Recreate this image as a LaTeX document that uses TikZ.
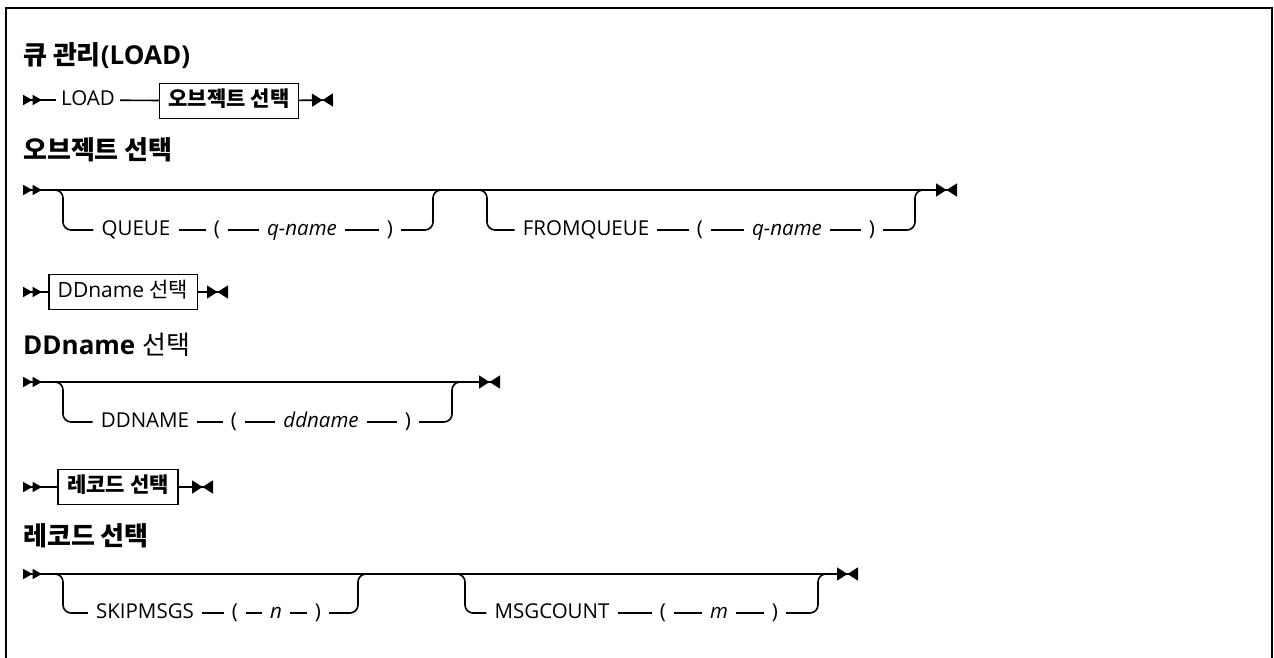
\documentclass[tikz,border=0pt]{standalone}
\usepackage{fontspec}
\setmainfont{Open Sans}
\newfontfamily\kr{Noto Sans CJK KR}
\usetikzlibrary{arrows.meta}

\begin{document}
\begin{tikzpicture}[
  x=1pt, y=-1pt,
  font=\fontsize{20.5}{24}\selectfont,
  frame/.style={line width=2.5pt, draw=black},
  rail/.style={line width=1.6pt, draw=black},
  railin/.style={rail, {Triangle[reversed,length=9.5pt,width=10pt]Triangle[reversed,length=9.5pt,width=10pt]}-},
  railout/.style={rail, -{Triangle[length=10.5pt,width=13pt]Triangle[reversed,length=10.5pt,width=13pt]}},
  railboth/.style={rail, {Triangle[reversed,length=9.5pt,width=10pt]Triangle[reversed,length=9.5pt,width=10pt]}-{Triangle[length=10.5pt,width=13pt]Triangle[reversed,length=10.5pt,width=13pt]}},
  branch/.style={rail, rounded corners=8pt},
  kwtext/.style={inner xsep=8pt, inner ysep=0pt, text height=14pt, text depth=3pt},
  var/.style={kwtext, font=\fontsize{20.5}{24}\selectfont\itshape},
  refbox/.style={draw, line width=1.6pt, minimum height=35pt, inner xsep=9pt,
    text height=15pt, text depth=4pt, font=\fontsize{21}{24}\selectfont},
  heading/.style={anchor=base west, inner sep=0pt, font=\fontsize{26}{30}\selectfont\bfseries},
]
\useasboundingbox (0,0) rectangle (1274,658);

% Frame (open at the bottom)
\draw[frame] (6,658) -- (6,8) -- (1272,8) -- (1272,658);

% Title
\node[heading] (title) at (23,65) {{\kr 큐 관리}(LOAD)};

% LOAD line
\coordinate (r1in) at (23,100);
\coordinate (r1out) at (333,100);
\node[kwtext, inner xsep=5pt] (load) at (88,100) {LOAD};
\node[refbox] (objbox) at (229,101) {\kr\bfseries 오브젝트 선택};
\draw[railin] (r1in) -- (load);
\draw[rail] (load) -- (objbox);
\draw[railout] (objbox) -- (r1out);

% Object selection
\node[heading] (objhead) at (23,159) {\kr 오브젝트 선택};
\coordinate (osin) at (23,190);
\coordinate (osout) at (957,190);
\draw[railboth] (osin) -- (osout);

% QUEUE branch
\coordinate (qa) at (50,190);
\coordinate (qb) at (63,190);
\coordinate (qc) at (433,190);
\coordinate (qd) at (443,190);
\node[kwtext] (queue) at (136,230) {QUEUE};
\node[kwtext] (lp1) at (217,230) {(};
\node[var] (qname1) at (302,230) {q-name};
\node[kwtext] (rp1) at (390,230) {)};
\draw[branch] (qa) -- (qb) |- (queue);
\draw[rail] (queue) -- (lp1) (lp1) -- (qname1) (qname1) -- (rp1);
\draw[branch] (rp1) -| (qc) -- (qd);

% FROMQUEUE branch
\coordinate (fa) at (477,190);
\coordinate (fb) at (487,190);
\coordinate (fc) at (915,190);
\coordinate (fd) at (925,190);
\node[kwtext] (fromq) at (586,230) {FROMQUEUE};
\node[kwtext] (lp2) at (700,230) {(};
\node[var] (qname2) at (787,230) {q-name};
\node[kwtext] (rp2) at (872,230) {)};
\draw[branch] (fa) -- (fb) |- (fromq);
\draw[rail] (fromq) -- (lp2) (lp2) -- (qname2) (qname2) -- (rp2);
\draw[branch] (rp2) -| (fc) -- (fd);

% DDname line
\coordinate (r3in) at (23,292);
\coordinate (r3out) at (228,292);
\node[refbox] (ddbox) at (123,292) {DDname {\kr 선택}};
\draw[railin] (r3in) -- (ddbox);
\draw[railout] (ddbox) -- (r3out);

% DDname selection
\node[heading] (ddhead) at (23,354) {DDname {\kr\mdseries 선택}};
\coordinate (ddin) at (23,382);
\coordinate (ddout) at (500,382);
\draw[railboth] (ddin) -- (ddout);
\coordinate (da) at (50,382);
\coordinate (db) at (63,382);
\coordinate (dc) at (452,382);
\coordinate (dd) at (462,382);
\node[kwtext] (ddkw) at (145,422) {DDNAME};
\node[kwtext] (lp3) at (234,422) {(};
\node[var] (ddvar) at (321,422) {ddname};
\node[kwtext] (rp3) at (408,422) {)};
\draw[branch] (da) -- (db) |- (ddkw);
\draw[rail] (ddkw) -- (lp3) (lp3) -- (ddvar) (ddvar) -- (rp3);
\draw[branch] (rp3) -| (dc) -- (dd);

% Record line
\coordinate (r5in) at (23,487);
\coordinate (r5out) at (213,487);
\node[refbox] (recbox) at (118,487) {\kr\bfseries 레코드 선택};
\draw[railin] (r5in) -- (recbox);
\draw[railout] (recbox) -- (r5out);

% Record selection
\node[heading] (rechead) at (23,545) {\kr 레코드 선택};
\coordinate (rsin) at (23,574);
\coordinate (rsout) at (858,574);
\draw[railboth] (rsin) -- (rsout);

% SKIPMSGS branch
\coordinate (sa) at (50,574);
\coordinate (sb) at (63,574);
\coordinate (sc) at (358,574);
\coordinate (sd) at (368,574);
\node[kwtext] (skip) at (145,613) {SKIPMSGS};
\node[kwtext] (lp4) at (235,613) {(};
\node[var] (nvar) at (276,613) {n};
\node[kwtext] (rp4) at (318,613) {)};
\draw[branch] (sa) -- (sb) |- (skip);
\draw[rail] (skip) -- (lp4) (lp4) -- (nvar) (nvar) -- (rp4);
\draw[branch] (rp4) -| (sc) -- (sd);

% MSGCOUNT branch
\coordinate (ma) at (455,574);
\coordinate (mb) at (465,574);
\coordinate (mc) at (818,574);
\coordinate (md) at (828,574);
\node[kwtext] (msgc) at (552,613) {MSGCOUNT};
\node[kwtext] (lp5) at (663,613) {(};
\node[var] (mvar) at (719,613) {m};
\node[kwtext] (rp5) at (775,613) {)};
\draw[branch] (ma) -- (mb) |- (msgc);
\draw[rail] (msgc) -- (lp5) (lp5) -- (mvar) (mvar) -- (rp5);
\draw[branch] (rp5) -| (mc) -- (md);

\end{tikzpicture}
\end{document}
